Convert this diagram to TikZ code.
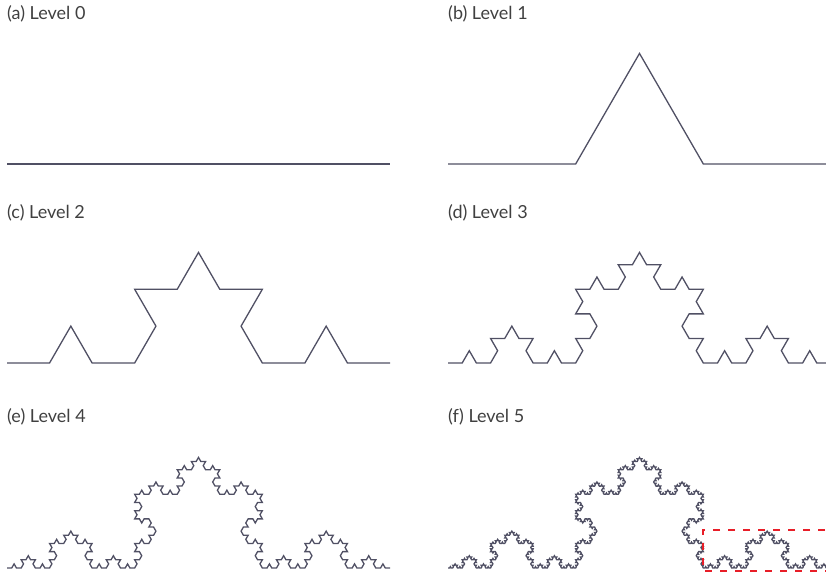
\documentclass[tikz,border=0pt]{standalone}
\usepackage{fontspec}
\setmainfont{Lato}
\usetikzlibrary{lindenmayersystems}

% Regla de la curva de Koch
\pgfdeclarelindenmayersystem{Koch}{\rule{F -> F+F--F+F}}

\definecolor{curvagris}{RGB}{80,80,100}
\definecolor{rojocaja}{RGB}{232,30,40}

\begin{document}
\begin{tikzpicture}[x=1pt, y=1pt,
    curva/.style={curvagris, line width=1.3pt, line join=miter},
    rotulo/.style={anchor=base west, inner sep=0pt, text=black!75, font=\fontsize{18}{21}\selectfont},
    caja/.style={rojocaja, line width=1.4pt, dash pattern=on 7pt off 8pt}]
    % Marco de la figura
    \useasboundingbox (0,0) rectangle (826,577);

    % Rótulos de cada nivel
    \node[rotulo] (rotuloA) at (7,557) {(a) Level 0};
    \node[rotulo] (rotuloB) at (448,557) {(b) Level 1};
    \node[rotulo] (rotuloC) at (7,358) {(c) Level 2};
    \node[rotulo] (rotuloD) at (448,358) {(d) Level 3};
    \node[rotulo] (rotuloE) at (7,154) {(e) Level 4};
    \node[rotulo] (rotuloF) at (448,154) {(f) Level 5};

    % Curvas de Koch (longitud total 383)
    \draw[curva, shift={(7,413)}, l-system={Koch, axiom=F, order=0, step=383pt, angle=60}] lindenmayer system;
    \draw[curva, shift={(448,413)}, l-system={Koch, axiom=F, order=1, step=127.667pt, angle=60}] lindenmayer system;
    \draw[curva, shift={(7,214)}, l-system={Koch, axiom=F, order=2, step=42.556pt, angle=60}] lindenmayer system;
    \draw[curva, shift={(448,214)}, l-system={Koch, axiom=F, order=3, step=14.185pt, angle=60}] lindenmayer system;
    \draw[curva, shift={(7,9)}, l-system={Koch, axiom=F, order=4, step=4.7284pt, angle=60}] lindenmayer system;
    \draw[curva, shift={(448,9)}, l-system={Koch, axiom=F, order=5, step=1.5761pt, angle=60}] lindenmayer system;

    % Recuadro de detalle (sale por la derecha)
    \draw[caja] (840,47) -- (703,47) -- (703,6) -- (840,6);
\end{tikzpicture}
\end{document}
